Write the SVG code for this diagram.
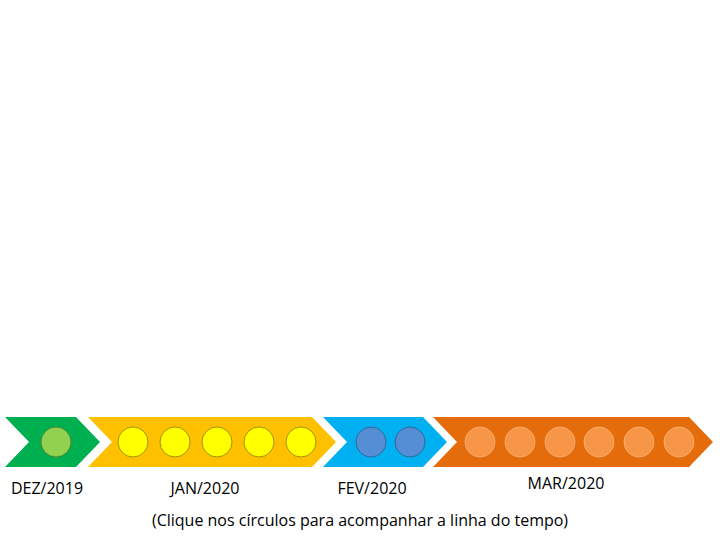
<svg xmlns="http://www.w3.org/2000/svg" width="720" height="540" viewBox="0 0 720 540">
<style>
.lbl{font-family:"Open Sans","Noto Sans",sans-serif;font-size:16px;fill:#000;text-anchor:middle}
.cg{fill:#92D050;stroke:#4E7A27;stroke-width:0.8}
.cy{fill:#FFFF00;stroke:#8A7A00;stroke-width:0.8}
.cb{fill:#558ED5;stroke:#2E5A8C;stroke-width:0.8}
.co{fill:#F79646;stroke:#FAB47F;stroke-width:0.8}
</style>
<rect width="720" height="540" fill="#fff"/>
<g id="dez">
<polygon points="5,417 76,417 100,442 76,467 5,467 29,442" fill="#00B050"/>
<circle class="cg" cx="56" cy="442" r="15"/>
<text class="lbl" x="47" y="494">DEZ/2019</text>
</g>
<g id="jan">
<polygon points="88,417 312,417 336,442 312,467 88,467 112,442" fill="#FFC000"/>
<circle class="cy" cx="133" cy="442" r="15"/>
<circle class="cy" cx="175" cy="442" r="15"/>
<circle class="cy" cx="217" cy="442" r="15"/>
<circle class="cy" cx="259" cy="442" r="15"/>
<circle class="cy" cx="301" cy="442" r="15"/>
<text class="lbl" x="205" y="494">JAN/2020</text>
</g>
<g id="fev">
<polygon points="323,417 423,417 447,442 423,467 323,467 347,442" fill="#00B0F0"/>
<circle class="cb" cx="371" cy="442" r="15"/>
<circle class="cb" cx="410" cy="442" r="15"/>
<text class="lbl" x="372" y="494">FEV/2020</text>
</g>
<g id="mar">
<polygon points="433,417 689,417 713,442 689,467 433,467 457,442" fill="#E46C0A"/>
<circle class="co" cx="480" cy="442" r="15"/>
<circle class="co" cx="520" cy="442" r="15"/>
<circle class="co" cx="560" cy="442" r="15"/>
<circle class="co" cx="599" cy="442" r="15"/>
<circle class="co" cx="639" cy="442" r="15"/>
<circle class="co" cx="679" cy="442" r="15"/>
<text class="lbl" x="566" y="489">MAR/2020</text>
</g>
<g id="connectors"/>
<text class="lbl" x="360" y="526">(Clique nos círculos para acompanhar a linha do tempo)</text>
</svg>
